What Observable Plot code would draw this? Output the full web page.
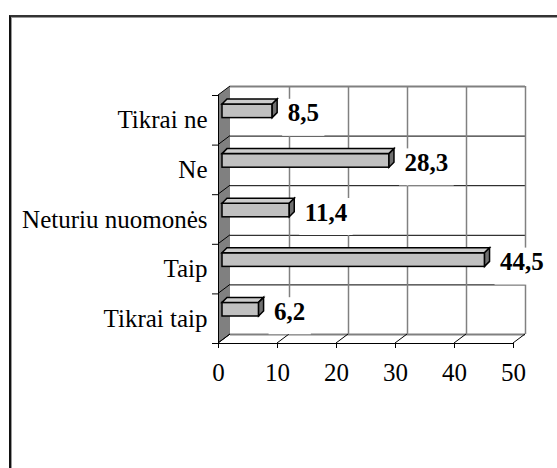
<!DOCTYPE html>
<html><head><meta charset="utf-8">
<script src="https://cdn.jsdelivr.net/npm/d3@7"></script>
<script src="https://cdn.jsdelivr.net/npm/@observablehq/plot@0.6"></script>
<style>
html,body{margin:0;padding:0;background:#fff;overflow:hidden;width:557px;height:468px;}
#frame{position:absolute;left:9px;top:15px;width:600px;height:500px;border-left:2px solid #111;border-top:2px solid #333;box-shadow:inset 1px 1px 0 #999;}
#chart{position:absolute;left:0;top:0;font-family:'Liberation Serif';}
</style></head><body>
<div id="frame"></div><div id="chart"></div>
<script>
// ---- data ----
const categories = ["Tikrai taip", "Taip", "Neturiu nuomonės", "Ne", "Tikrai ne"];
const values = [6.2, 44.5, 11.4, 28.3, 8.5];
const valueLabels = ["6,2", "44,5", "11,4", "28,3", "8,5"];
const xTicks = [0, 10, 20, 30, 40, 50];
const bandEdges = [0, 1, 2, 3, 4, 5];

const data = categories.map((c, i) => ({category: c, i, value: values[i], label: valueLabels[i]}));

// ---- 3D styling constants (pixels) ----
const DX = 12, DY = 9;           // wall depth
const BAR_DX = 4;                // bar offset into depth
const BAR_D = 5;                 // bar depth
const INSET_TOP = 9, INSET_BOTTOM = 27;
const LABEL_DX = 19, LABEL_DY = -7;
const FONT = "Liberation Serif";

const path = pts => "M" + pts.map(p => p.join(",")).join("L") + "Z";

const measureCtx = document.createElement("canvas").getContext("2d");
measureCtx.font = `bold 25px ${FONT}`;

function wallMark(index, {x, y}) {
  const g = d3.create("svg:g");
  const X0 = x(xTicks[0]), Y0 = y(bandEdges[0]), Y1 = y(bandEdges[bandEdges.length - 1]);
  g.append("path").attr("d", path([[X0, Y1], [X0 + DX, Y1 - DY], [X0 + DX, Y0 - DY], [X0, Y0]]))
    .attr("fill", "#808080");
  for (const e of bandEdges) {
    g.append("line").attr("x1", X0).attr("y1", y(e)).attr("x2", X0 + DX).attr("y2", y(e) - DY)
      .attr("stroke", "#000").attr("stroke-width", 1);
  }
  for (const t of xTicks) {
    g.append("line").attr("x1", x(t)).attr("y1", Y0).attr("x2", x(t) + DX).attr("y2", Y0 - DY)
      .attr("stroke", "#000").attr("stroke-width", 1);
  }
  return g.node();
}

function barFaces(index, {x, y}) {
  const g = d3.create("svg:g").attr("stroke", "#000").attr("stroke-width", 1.5).attr("stroke-linejoin", "miter");
  for (const d of data) {
    const xa = x(0) + BAR_DX, xb = x(d.value) + BAR_DX;
    const yt = y(d.i + 1) + INSET_TOP, yb = y(d.i) - INSET_BOTTOM;
    g.append("path").attr("d", path([[xa, yt], [xa + BAR_D, yt - BAR_D], [xb + BAR_D, yt - BAR_D], [xb, yt]]))
      .attr("fill", "#cccccc");
    g.append("path").attr("d", path([[xb, yt], [xb + BAR_D, yt - BAR_D], [xb + BAR_D, yb - BAR_D], [xb, yb]]))
      .attr("fill", "#707070");
  }
  return g.node();
}

function labelBoxes(index, {x, y}) {
  const g = d3.create("svg:g").attr("fill", "#fff");
  for (const d of data) {
    const x0 = x(d.value) + LABEL_DX, cy = y(d.i + 0.5) + LABEL_DY;
    const w = measureCtx.measureText(d.label).width;
    g.append("rect").attr("x", x0 - 5).attr("y", cy - 14).attr("width", w + 11).attr("height", 37);
  }
  return g.node();
}

const chart = Plot.plot({
  width: 557,
  height: 468,
  marginLeft: 218,
  marginRight: 44,
  marginTop: 95,
  marginBottom: 125,
  style: {fontFamily: FONT, fontSize: "25px", color: "#000", background: "transparent"},
  x: {domain: [0, 50], label: null},
  y: {domain: [0, 5], label: null},
  marks: [
    // back wall grid
    Plot.ruleY(bandEdges.slice(1, -1), {x1: 0, x2: 50, dx: DX, dy: -DY, stroke: "#000", strokeWidth: 1}),
    Plot.ruleY([bandEdges[0], bandEdges[bandEdges.length - 1]], {x1: 0, x2: 50, dx: DX, dy: -DY, stroke: "#808080", strokeWidth: 2}),
    Plot.ruleX(xTicks.slice(1), {y1: 0, y2: 5, dx: DX, dy: -DY, stroke: "#808080", strokeWidth: 1.5}),
    // side wall and floor
    wallMark,
    Plot.ruleY([0], {x1: 0, x2: 50, stroke: "#000", strokeWidth: 1}),
    Plot.ruleX([0], {y1: 0, y2: 5, stroke: "#000", strokeWidth: 1}),
    // axes
    Plot.axisX({ticks: xTicks, tickSize: 5, tickPadding: 15, fontSize: 25, fontFamily: FONT, fontVariant: "normal", stroke: "#000", label: null}),
    Plot.axisY({ticks: bandEdges, tickSize: 6, tickFormat: () => "", stroke: "#000", label: null}),
    Plot.axisY({ticks: data.map(d => d.i + 0.5), tickSize: 0, tickPadding: 11, fontSize: 25, fontFamily: FONT, label: null,
      tickFormat: v => categories[Math.floor(v)]}),
    // bars
    Plot.rect(data, {x1: 0, x2: "value", y1: "i", y2: d => d.i + 1, insetTop: INSET_TOP, insetBottom: INSET_BOTTOM,
      dx: BAR_DX, fill: "#c0c0c0", stroke: "#000", strokeWidth: 1.5}),
    barFaces,
    // value labels with white boxes
    labelBoxes,
    Plot.text(data, {x: "value", y: d => d.i + 0.5, text: "label", textAnchor: "start", dx: LABEL_DX, dy: LABEL_DY,
      fontWeight: "bold", fontSize: 25, fontFamily: FONT, fill: "#000"})
  ]
});
document.getElementById("chart").append(chart);
</script>
</body></html>
